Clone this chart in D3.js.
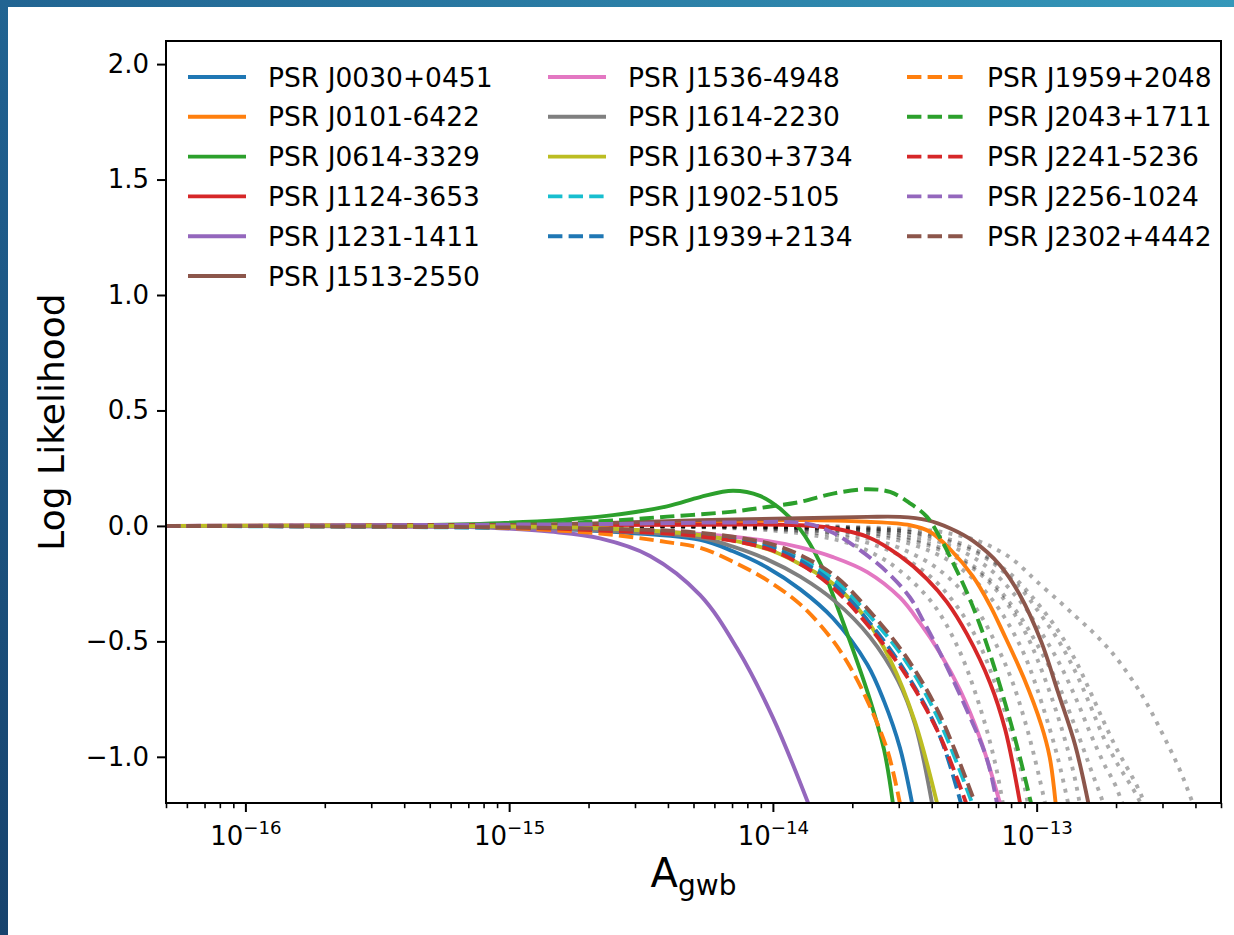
<!DOCTYPE html>
<html>
<head>
<meta charset="utf-8">
<script src="https://cdn.jsdelivr.net/npm/d3@7"></script>
<style>
  html, body { margin: 0; padding: 0; background: #ffffff; }
  svg { display: block; font-family: "DejaVu Sans", sans-serif; }
</style>
</head>
<body>
<svg id="chart" width="1234" height="935"></svg>
<script>
// ---- Data: per-pulsar log-likelihood versus GWB amplitude ----
const pulsarNames = [
  "PSR J0030+0451", "PSR J0101-6422", "PSR J0614-3329", "PSR J1124-3653",
  "PSR J1231-1411", "PSR J1513-2550", "PSR J1536-4948", "PSR J1614-2230",
  "PSR J1630+3734", "PSR J1902-5105", "PSR J1939+2134", "PSR J1959+2048",
  "PSR J2043+1711", "PSR J2241-5236", "PSR J2256-1024", "PSR J2302+4442"
];

// [A_gwb, log likelihood]
const llJ0030 = [[5e-17,0],[6.0e-16,-0.003],[1.43e-15,-0.012],[2.21e-15,-0.022],[5.30e-15,-0.06],[7.06e-15,-0.11],[9.50e-15,-0.18],[1.27e-14,-0.275],[1.69e-14,-0.40],[2.28e-14,-0.60],[2.64e-14,-0.76],[3.03e-14,-0.96],[3.37e-14,-1.2]];
const llJ0101 = [[5e-17,0],[2.21e-15,0.005],[5.30e-15,0.015],[1.27e-14,0.025],[2.28e-14,0.018],[3.31e-14,0.003],[3.94e-14,-0.025],[4.69e-14,-0.1],[5.74e-14,-0.22],[6.66e-14,-0.345],[7.45e-14,-0.46],[8.95e-14,-0.66],[1.04e-13,-0.86],[1.12e-13,-1.0],[1.18e-13,-1.2]];
const llJ0614 = [[5e-17,0],[3.86e-16,0.002],[9.2e-16,0.012],[2.21e-15,0.04],[3.97e-15,0.085],[5.30e-15,0.125],[7.06e-15,0.152],[8.93e-15,0.13],[1.064e-14,0.075],[1.27e-14,-0.015],[1.51e-14,-0.16],[1.69e-14,-0.3],[1.96e-14,-0.5],[2.33e-14,-0.75],[2.64e-14,-0.97],[2.85e-14,-1.2]];
const llJ1124 = [[5e-17,0],[5.30e-15,0.005],[1.27e-14,0.003],[1.69e-14,-0.01],[2.28e-14,-0.047],[3.03e-14,-0.13],[3.84e-14,-0.23],[4.57e-14,-0.33],[5.45e-14,-0.47],[6.66e-14,-0.68],[7.59e-14,-0.88],[8.65e-14,-1.2]];
const llJ1231 = [[5e-17,0],[6.0e-16,-0.003],[9.2e-16,-0.01],[1.43e-15,-0.025],[2.21e-15,-0.054],[3.42e-15,-0.13],[5.30e-15,-0.30],[7.31e-15,-0.53],[1.0e-14,-0.83],[1.36e-14,-1.2]];
const llJ1513 = [[5e-17,0],[9.2e-16,0.003],[2.21e-15,0.012],[5.30e-15,0.025],[1.27e-14,0.033],[2.28e-14,0.039],[3.03e-14,0.039],[3.84e-14,0.025],[4.69e-14,-0.01],[5.74e-14,-0.065],[7.26e-14,-0.17],[8.65e-14,-0.3],[1.04e-13,-0.5],[1.205e-13,-0.72],[1.40e-13,-0.95],[1.57e-13,-1.2]];
const llJ1536 = [[5e-17,0],[9.2e-16,-0.005],[2.21e-15,-0.015],[5.30e-15,-0.035],[9.50e-15,-0.065],[1.27e-14,-0.093],[1.69e-14,-0.135],[2.28e-14,-0.2],[3.03e-14,-0.31],[3.61e-14,-0.42],[4.30e-14,-0.55],[5.12e-14,-0.71],[6.10e-14,-0.92],[7.26e-14,-1.2]];
const llJ1614 = [[5e-17,0],[9.2e-16,-0.005],[2.21e-15,-0.02],[5.30e-15,-0.05],[7.06e-15,-0.09],[9.50e-15,-0.145],[1.27e-14,-0.22],[1.735e-14,-0.33],[2.33e-14,-0.48],[2.98e-14,-0.67],[3.46e-14,-0.86],[4.01e-14,-1.2]];
const llJ1630 = [[5e-17,0],[2.21e-15,-0.01],[5.30e-15,-0.04],[9.50e-15,-0.1],[1.29e-14,-0.17],[1.735e-14,-0.26],[2.215e-14,-0.39],[2.80e-14,-0.585],[3.46e-14,-0.85],[4.19e-14,-1.2]];
const llJ1902 = [[5e-17,0],[2.21e-15,-0.015],[5.30e-15,-0.035],[9.58e-15,-0.085],[1.29e-14,-0.145],[1.735e-14,-0.24],[2.33e-14,-0.39],[3.17e-14,-0.58],[4.26e-14,-0.84],[5.69e-14,-1.2]];
const llJ1939 = [[5e-17,0],[2.21e-15,-0.015],[5.30e-15,-0.04],[9.58e-15,-0.09],[1.29e-14,-0.155],[1.735e-14,-0.26],[2.33e-14,-0.42],[3.17e-14,-0.63],[4.26e-14,-0.9],[5.16e-14,-1.2]];
const llJ1959 = [[5e-17,0],[6.0e-16,-0.004],[9.2e-16,-0.008],[2.21e-15,-0.033],[3.97e-15,-0.07],[5.30e-15,-0.095],[7.06e-15,-0.155],[9.50e-15,-0.235],[1.27e-14,-0.34],[1.646e-14,-0.48],[1.96e-14,-0.61],[2.33e-14,-0.78],[2.73e-14,-0.98],[3.03e-14,-1.2]];
const llJ2043 = [[5e-17,0],[9.2e-16,0.003],[2.21e-15,0.02],[3.97e-15,0.04],[7.06e-15,0.062],[9.50e-15,0.082],[1.27e-14,0.104],[1.69e-14,0.14],[2.28e-14,0.159],[2.78e-14,0.147],[3.31e-14,0.098],[3.84e-14,0.039],[4.30e-14,-0.05],[4.82e-14,-0.16],[5.45e-14,-0.29],[6.10e-14,-0.43],[6.77e-14,-0.58],[7.65e-14,-0.78],[8.50e-14,-0.97],[9.52e-14,-1.2]];
const llJ2241 = [[5e-17,0],[9.2e-16,-0.005],[2.21e-15,-0.02],[5.30e-15,-0.045],[9.58e-15,-0.1],[1.29e-14,-0.17],[1.735e-14,-0.28],[2.33e-14,-0.44],[3.17e-14,-0.64],[4.26e-14,-0.9],[5.40e-14,-1.2]];
const llJ2256 = [[5e-17,0],[2.21e-15,0.008],[7.06e-15,0.015],[1.346e-14,0.01],[1.69e-14,-0.03],[2.14e-14,-0.105],[2.71e-14,-0.2],[3.31e-14,-0.31],[3.71e-14,-0.41],[4.26e-14,-0.54],[5.40e-14,-0.79],[6.48e-14,-1.01],[7.07e-14,-1.2]];
const llJ2302 = [[5e-17,0],[2.21e-15,-0.012],[5.30e-15,-0.03],[9.58e-15,-0.075],[1.29e-14,-0.13],[1.735e-14,-0.22],[2.33e-14,-0.37],[3.17e-14,-0.56],[4.26e-14,-0.81],[5.84e-14,-1.2]];

const pulsarCurves = [llJ0030, llJ0101, llJ0614, llJ1124, llJ1231, llJ1513, llJ1536, llJ1614,
                      llJ1630, llJ1902, llJ1939, llJ1959, llJ2043, llJ2241, llJ2256, llJ2302];

// Reference (dotted) curves sampled on a common amplitude grid
const refAmplitudes = [5e-17, 1e-15, 5e-15, 1e-14, 1.5e-14, 2e-14, 2.5e-14, 3e-14, 4e-14, 5e-14, 6e-14, 7e-14, 8e-14,
                       9e-14, 1e-13, 1.2e-13, 1.4e-13, 1.6e-13, 1.8e-13, 2e-13, 2.5e-13, 3e-13, 3.5e-13, 4e-13, 5e-13];
const referenceLL = [
  [0, 0, -0.005, -0.02, -0.045, -0.08, -0.13, -0.19, -0.33, -0.52, -0.76, -1.04, -1.42],
  [0, 0, -0.004, -0.014, -0.031, -0.055, -0.088, -0.126, -0.224, -0.35, -0.5, -0.69, -0.89, -1.13, -1.42],
  [0, 0, -0.003, -0.01, -0.023, -0.041, -0.065, -0.094, -0.167, -0.26, -0.37, -0.51, -0.66, -0.84, -1.04, -1.45],
  [0, 0, -0.002, -0.007, -0.016, -0.028, -0.044, -0.063, -0.112, -0.173, -0.25, -0.34, -0.444, -0.56, -0.7, -1.0, -1.35],
  [0, 0, -0.002, -0.005, -0.012, -0.022, -0.035, -0.05, -0.09, -0.14, -0.2, -0.275, -0.36, -0.455, -0.57, -0.82, -1.1, -1.5],
  [0, 0, 0, -0.005, -0.01, -0.015, -0.025, -0.04, -0.08, -0.13, -0.19, -0.26, -0.34, -0.42, -0.51, -0.68, -0.87, -1.05, -1.21, -1.38],
  [0, 0, 0, -0.004, -0.008, -0.013, -0.02, -0.03, -0.06, -0.1, -0.15, -0.21, -0.28, -0.35, -0.43, -0.58, -0.74, -0.9, -1.03, -1.13, -1.45],
  [0, 0, 0, -0.003, -0.006, -0.01, -0.015, -0.02, -0.045, -0.08, -0.12, -0.17, -0.23, -0.29, -0.36, -0.49, -0.63, -0.78, -0.92, -1.02, -1.21, -1.5],
  [0, 0, 0, -0.002, -0.005, -0.008, -0.013, -0.02, -0.04, -0.07, -0.11, -0.16, -0.21, -0.27, -0.33, -0.45, -0.58, -0.72, -0.85, -0.96, -1.17, -1.45],
  [0, 0, 0, 0, 0, -0.005, -0.008, -0.012, -0.02, -0.04, -0.065, -0.1, -0.14, -0.19, -0.24, -0.32, -0.39, -0.45, -0.51, -0.57, -0.73, -0.9, -1.06, -1.23, -1.5]
];

// Axis ticks
const xMajorTicks = [1e-16, 1e-15, 1e-14, 1e-13];
const xTickExponents = ["\u221216", "\u221215", "\u221214", "\u221213"];
const yTicks = [-1.0, -0.5, 0.0, 0.5, 1.0, 1.5, 2.0];

// ---- Styles ----
const lineColors = ["#1f77b4", "#ff7f0e", "#2ca02c", "#d62728", "#9467bd", "#8c564b", "#e377c2", "#7f7f7f",
                    "#bcbd22", "#17becf", "#1f77b4", "#ff7f0e", "#2ca02c", "#d62728", "#9467bd", "#8c564b"];
const lineDashed = [false, false, false, false, false, false, false, false,
                    false, true, true, true, true, true, true, true];

const W = 1234, H = 935;
const plot = { left: 166, right: 1221, top: 41, bottom: 803 };
const LW = 3.9;
const DASH = "14.4,6.2";
const DOT = "3.9,6.4";

const svg = d3.select("#chart");
const defs = svg.append("defs");

// Page background: blue gradient frame with white panel
const grad = defs.append("linearGradient").attr("id", "bg").attr("x1", 0).attr("y1", 1).attr("x2", 1).attr("y2", 0);
grad.append("stop").attr("offset", "0%").attr("stop-color", "#17436d");
grad.append("stop").attr("offset", "45%").attr("stop-color", "#1f5f8e");
grad.append("stop").attr("offset", "100%").attr("stop-color", "#3598ba");
svg.append("rect").attr("width", W).attr("height", H).attr("fill", "url(#bg)");
svg.append("rect").attr("x", 8).attr("y", 7).attr("width", W - 8).attr("height", H - 7).attr("fill", "#ffffff");

const x = d3.scaleLog().domain([5e-17, 5e-13]).range([plot.left, plot.right]);
const y = d3.scaleLinear().domain([-1.2, 2.1]).range([plot.bottom, plot.top]);

defs.append("clipPath").attr("id", "plotClip").append("rect")
  .attr("x", plot.left).attr("y", plot.top)
  .attr("width", plot.right - plot.left).attr("height", plot.bottom - plot.top);

const line = d3.line()
  .defined(d => d[1] !== null && d[1] !== undefined)
  .x(d => x(d[0])).y(d => y(d[1]))
  .curve(d3.curveCatmullRom.alpha(0.5));

const curvesG = svg.append("g").attr("clip-path", "url(#plotClip)");

// Dotted reference curves (drawn underneath)
referenceLL.forEach(vals => {
  const pts = refAmplitudes.slice(0, vals.length).map((a, i) => [a, vals[i]]);
  curvesG.append("path")
    .attr("d", line(pts))
    .attr("fill", "none")
    .attr("stroke", "#000")
    .attr("stroke-opacity", 0.33)
    .attr("stroke-width", LW)
    .attr("stroke-dasharray", DOT);
});

// Pulsar curves
pulsarCurves.forEach((pts, i) => {
  curvesG.append("path")
    .attr("d", line(pts))
    .attr("fill", "none")
    .attr("stroke", lineColors[i])
    .attr("stroke-width", LW)
    .attr("stroke-dasharray", lineDashed[i] ? DASH : null);
});

// ---- Axes ----
const axisColor = "#000";
const yAxis = d3.axisLeft(y).tickValues(yTicks).tickSize(9).tickPadding(8).tickSizeOuter(0)
  .tickFormat(d3.format(".1f"));
const gy = svg.append("g").attr("transform", `translate(${plot.left},0)`).call(yAxis);
gy.select(".domain").remove();
gy.selectAll(".tick line").attr("stroke", axisColor).attr("stroke-width", 2);
gy.selectAll(".tick text").attr("font-size", 26).attr("fill", "#000")
  .attr("font-family", "DejaVu Sans, sans-serif");

// minor x ticks
const xMinor = [];
for (let e = -17; e <= -13; e++) {
  for (let m = 2; m <= 9; m++) {
    const v = m * Math.pow(10, e);
    if (v >= 5e-17 && v <= 5e-13) xMinor.push(v);
  }
}
const gxMinor = svg.append("g").attr("transform", `translate(0,${plot.bottom})`)
  .call(d3.axisBottom(x).tickValues(xMinor).tickSize(5.2).tickSizeOuter(0).tickFormat(""));
gxMinor.select(".domain").remove();
gxMinor.selectAll(".tick line").attr("stroke", axisColor).attr("stroke-width", 1.6);

const gx = svg.append("g").attr("transform", `translate(0,${plot.bottom})`)
  .call(d3.axisBottom(x).tickValues(xMajorTicks).tickSize(9).tickPadding(9).tickSizeOuter(0).tickFormat(() => ""));
gx.select(".domain").remove();
gx.selectAll(".tick line").attr("stroke", axisColor).attr("stroke-width", 2);
gx.selectAll(".tick text").each(function (d, i) {
  const t = d3.select(this);
  t.text(null).attr("y", 0).attr("dy", null)
    .attr("transform", "translate(0,42)")
    .attr("text-anchor", "middle").attr("fill", "#000")
    .attr("font-family", "DejaVu Sans, sans-serif");
  t.append("tspan").attr("font-size", 26).text("10");
  t.append("tspan").attr("font-size", 18.2).attr("dy", -11).text(xTickExponents[i]);
});

// plot frame
svg.append("rect")
  .attr("x", plot.left).attr("y", plot.top)
  .attr("width", plot.right - plot.left).attr("height", plot.bottom - plot.top)
  .attr("fill", "none").attr("stroke", "#000").attr("stroke-width", 2);

// axis labels
svg.append("text")
  .attr("transform", `translate(64,${(plot.top + plot.bottom) / 2}) rotate(-90)`)
  .attr("text-anchor", "middle").attr("font-size", 36).attr("fill", "#000")
  .text("Log Likelihood");

const xl = svg.append("text")
  .attr("x", (plot.left + plot.right) / 2).attr("y", 887)
  .attr("text-anchor", "middle").attr("fill", "#000");
xl.append("tspan").attr("font-size", 40).text("A");
xl.append("tspan").attr("font-size", 28).attr("dy", 8).text("gwb");

// ---- Legend ----
const legendColX = [188, 548, 907];
const legendRowY0 = 77, legendRowStep = 39.8;
const legend = svg.append("g");
pulsarNames.forEach((name, i) => {
  let col, row;
  if (i < 6) { col = 0; row = i; }
  else if (i < 11) { col = 1; row = i - 6; }
  else { col = 2; row = i - 11; }
  const lx = legendColX[col], ly = legendRowY0 + row * legendRowStep;
  legend.append("line")
    .attr("x1", lx).attr("x2", lx + 58).attr("y1", ly).attr("y2", ly)
    .attr("stroke", lineColors[i]).attr("stroke-width", LW)
    .attr("stroke-dasharray", lineDashed[i] ? DASH : null);
  legend.append("text")
    .attr("x", lx + 80).attr("y", ly + 9.6)
    .attr("font-size", 26.5).attr("fill", "#000")
    .text(name);
});
</script>
</body>
</html>
